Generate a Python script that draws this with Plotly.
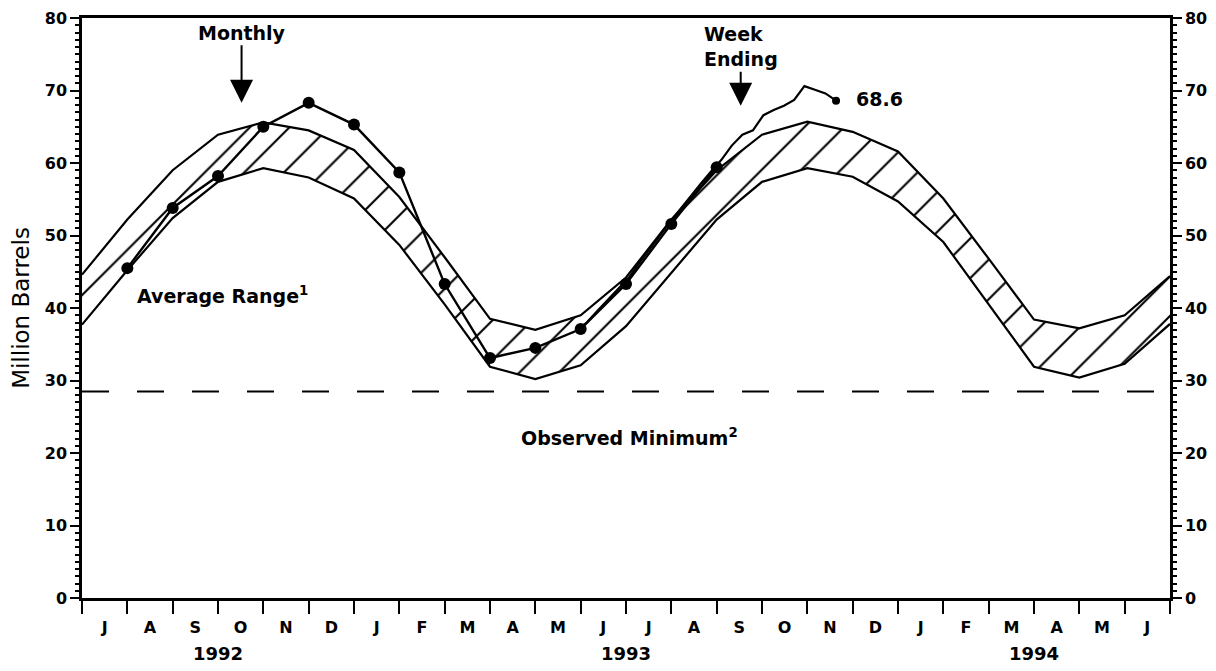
import calendar
import datetime as dt
import pandas as pd
import plotly.graph_objects as go

# ---------------- data ----------------
START_YEAR, START_MONTH, N_MONTHS = 1992, 7, 24   # axis: Jul 1992 .. Jun 1994

# Average range (upper / lower), month-end values, Jun 1992 .. Jun 1994
band_dates = pd.date_range("1992-06-30", periods=25, freq="ME")
avg_upper = [44.6, 52.2, 59.0, 63.9, 65.6, 64.5, 61.8, 55.3, 47.0, 38.5, 37.0, 39.0,
             44.2, 52.2, 59.0, 63.9, 65.7, 64.3, 61.6, 55.1, 46.8, 38.4, 37.2, 39.0, 44.4]
avg_lower = [37.7, 45.2, 52.4, 57.4, 59.3, 58.0, 55.1, 48.7, 40.5, 31.9, 30.2, 32.1,
             37.5, 44.9, 52.2, 57.4, 59.3, 58.1, 54.7, 49.1, 40.5, 31.9, 30.4, 32.3, 37.8]

# Monthly stocks, month-end Jul 1992 .. Aug 1993
monthly_dates = pd.date_range("1992-07-31", periods=14, freq="ME")
monthly_vals = [45.5, 53.8, 58.2, 65.0, 68.3, 65.3, 58.7, 43.3, 33.1, 34.5, 37.1, 43.3, 51.6, 59.4]

# Weekly stocks, week ending (Fridays) May 28 .. Nov 19, 1993
weekly_dates = pd.date_range("1993-05-28", "1993-11-19", freq="7D")
weekly_vals = [36.9, 38.0, 39.6, 41.1, 42.6, 44.2, 46.2, 48.1, 50.0, 51.8, 53.6, 55.4, 57.1,
               58.8, 60.4, 62.4, 63.9, 64.5, 66.6, 67.3, 67.9, 68.7, 70.6, 70.1, 69.6, 68.6]

observed_minimum = 28.5
y_ticks = [0, 10, 20, 30, 40, 50, 60, 70, 80]


def month_pos(d):
    """Position on a uniform month axis (0 = start of Jul 1992)."""
    days = calendar.monthrange(d.year, d.month)[1]
    return (d.year - START_YEAR) * 12 + (d.month - START_MONTH) + d.day / days


months = []
for k in range(N_MONTHS):
    y = START_YEAR + (START_MONTH - 1 + k) // 12
    m = (START_MONTH - 1 + k) % 12 + 1
    months.append((y, m, k + 0.5))
month_letters = [calendar.month_name[m][0] for _, m, _ in months]
month_centers = [c for _, _, c in months]
years = sorted(set(y for y, _, _ in months))
year_centers = [sum(c for y, _, c in months if y == yr) / sum(1 for y, _, _ in months if y == yr)
                for yr in years]

bx = [month_pos(d) for d in band_dates]
mx = [month_pos(d) for d in monthly_dates]
wx = [month_pos(d) for d in weekly_dates]

FONT = "DejaVu Sans"
BLACK = "black"

fig = go.Figure()

fig.add_trace(go.Scatter(x=bx, y=avg_lower, mode="lines",
                         line=dict(color=BLACK, width=2.2), hoverinfo="skip"))
fig.add_trace(go.Scatter(x=bx, y=avg_upper, mode="lines",
                         line=dict(color=BLACK, width=2.2), fill="tonexty",
                         fillcolor="rgba(0,0,0,0)",
                         fillpattern=dict(shape="/", size=28, solidity=0.075,
                                          fgcolor=BLACK, bgcolor="rgba(0,0,0,0)",
                                          fillmode="replace"),
                         hoverinfo="skip"))
fig.add_trace(go.Scatter(x=[0, N_MONTHS], y=[observed_minimum, observed_minimum], mode="lines",
                         line=dict(color=BLACK, width=2, dash="27px,28px")))
fig.add_trace(go.Scatter(x=mx, y=monthly_vals, mode="lines+markers",
                         line=dict(color=BLACK, width=2.4),
                         marker=dict(color=BLACK, size=12)))
fig.add_trace(go.Scatter(x=wx, y=weekly_vals, mode="lines",
                         line=dict(color=BLACK, width=2.2)))
fig.add_trace(go.Scatter(x=[wx[-1]], y=[weekly_vals[-1]], mode="markers",
                         marker=dict(color=BLACK, size=8)))
fig.add_trace(go.Scatter(x=[0], y=[0], yaxis="y2", mode="markers",
                         marker=dict(opacity=0), hoverinfo="skip"))

yaxis_common = dict(range=[0, 80], tickmode="array", tickvals=y_ticks,
                    ticks="outside", ticklen=9, tickwidth=2, tickcolor=BLACK,
                    showline=True, linewidth=2.5, linecolor=BLACK,
                    showgrid=False, zeroline=False, automargin=False,
                    tickfont=dict(family=FONT, size=16, color=BLACK, weight="bold"),
                    minor=dict(dtick=1, tick0=0, ticks="outside", ticklen=4,
                               tickwidth=1.5, tickcolor=BLACK, showgrid=False))

# The page body has an 8px margin; the figure is sized so it fits the 1216x671 window.
fig.update_layout(
    width=1200, height=655,
    margin=dict(l=74, r=38, t=10, b=65, autoexpand=False),
    paper_bgcolor="white", plot_bgcolor="white",
    showlegend=False,
    font=dict(family=FONT, color=BLACK),
    xaxis=dict(range=[0, N_MONTHS], tickmode="array", tickvals=month_centers,
               ticktext=month_letters, ticks="outside", ticklen=13,
               tickcolor="rgba(0,0,0,0)", automargin=False,
               tickfont=dict(family=FONT, size=16, color=BLACK, weight="bold"),
               showline=True, linewidth=2.5, linecolor=BLACK, mirror=True,
               showgrid=False, zeroline=False,
               minor=dict(tickmode="array", tickvals=list(range(N_MONTHS + 1)),
                          ticks="outside", ticklen=13, tickwidth=2, tickcolor=BLACK,
                          showgrid=False)),
    yaxis=dict(**yaxis_common,
               title=dict(text="Million Barrels", standoff=20,
                          font=dict(family=FONT, size=23, color=BLACK))),
    yaxis2=dict(**yaxis_common, overlaying="y", side="right", anchor="x"),
)

ann_font = dict(family=FONT, size=19, color=BLACK, weight="bold")

# Year labels
for yr, c in zip(years, year_centers):
    fig.add_annotation(x=c, y=0, yref="paper", text=str(yr), showarrow=False,
                       yanchor="middle", yshift=-55,
                       font=dict(family=FONT, size=18, color=BLACK, weight="bold"))

# Monthly label with arrow
fig.add_annotation(x=3.52, y=68.3, ax=0, ay=-70, text="Monthly", showarrow=True,
                   arrowhead=2, arrowsize=2.3, arrowwidth=2, arrowcolor=BLACK,
                   font=ann_font)

# Week Ending label with arrow
fig.add_annotation(x=14.53, y=67.9, ax=0, ay=-59, text="Week<br>Ending", showarrow=True,
                   align="left", arrowhead=2, arrowsize=2.3, arrowwidth=2,
                   arrowcolor=BLACK, font=ann_font)

# Last weekly value
fig.add_annotation(x=wx[-1], y=weekly_vals[-1], text=f"{weekly_vals[-1]}", showarrow=False,
                   xanchor="left", xshift=18, yshift=2,
                   font=dict(family=FONT, size=19, color=BLACK, weight="bold"))

fig.add_annotation(x=1.17, y=41.8, text="Average Range<sup>1</sup>", showarrow=False,
                   xanchor="left", font=ann_font)
fig.add_annotation(x=12.07, y=22.2, text="Observed Minimum<sup>2</sup>", showarrow=False,
                   font=ann_font)

fig.write_html("out.html")
